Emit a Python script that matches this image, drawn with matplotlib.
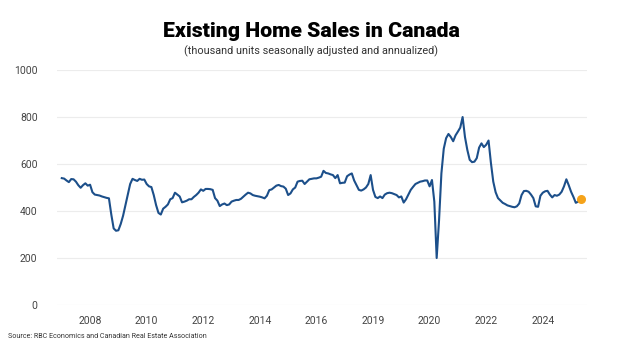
import numpy as np
import matplotlib
matplotlib.use("Agg")
import matplotlib.pyplot as plt

# monthly sales, thousand units SAAR, Jan 2007 onwards
y2007 = [540, 538, 530, 523, 536, 535, 525, 510, 499, 510, 518, 508]
y2008 = [512, 480, 470, 468, 466, 462, 459, 456, 454, 385, 326, 316]
y2009 = [318, 345, 380, 425, 468, 515, 537, 532, 528, 537, 533, 534]
y2010 = [515, 505, 502, 468, 425, 392, 385, 410, 418, 428, 450, 455]
y2011 = [478, 470, 462, 437, 440, 444, 450, 450, 460, 468, 478, 492]
y2012 = [486, 494, 494, 493, 490, 455, 444, 421, 428, 432, 425, 428]
y2013 = [440, 444, 447, 447, 452, 461, 470, 478, 475, 468, 465, 463]
y2014 = [461, 458, 454, 465, 489, 492, 500, 508, 511, 506, 504, 495]
y2015 = [468, 475, 492, 500, 525, 528, 529, 515, 525, 535, 537, 539]
y2016 = [539, 542, 546, 571, 562, 560, 556, 553, 540, 553, 518, 520]
y2017 = [521, 548, 555, 560, 530, 510, 490, 487, 492, 500, 515, 553]
y2018 = [490, 460, 455, 462, 455, 470, 476, 478, 476, 472, 468, 458]
y2019 = [462, 436, 450, 470, 490, 503, 515, 520, 525, 527, 530, 530]
y2020 = [505, 532, 440, 200, 360, 560, 665, 710, 728, 715, 697, 722]
y2021 = [738, 755, 800, 715, 660, 618, 608, 610, 625, 670, 688, 672]
y2022 = [682, 700, 605, 525, 480, 455, 445, 435, 430, 424, 421, 418]
y2023 = [416, 420, 432, 468, 485, 486, 482, 470, 455, 420, 418, 465]
y2024 = [478, 484, 486, 470, 458, 468, 465, 470, 482, 505, 535, 510]
y2025 = [482, 460, 435, 440, 452]

sales = (y2007 + y2008 + y2009 + y2010 + y2011 + y2012 + y2013 + y2014 + y2015
         + y2016 + y2017 + y2018 + y2019 + y2020 + y2021 + y2022 + y2023 + y2024 + y2025)
months = 2007 + np.arange(len(sales)) / 12

tick_years = [2008, 2010, 2012, 2014, 2016, 2018, 2020, 2022, 2024]
tick_labels = ["2008", "2010", "2012", "2014", "2016", "2019", "2020", "2022", "2024"]
y_ticks = [0, 200, 400, 600, 800, 1000]

plt.rcParams['font.family'] = ['Roboto', 'DejaVu Sans']

fig = plt.figure(figsize=(6.22, 3.52), dpi=100)
ax = fig.add_axes([0.0916, 0.1335, 0.852, 0.6675])

ax.plot(months, sales, color="#1c4f8a", lw=1.5, solid_joinstyle="round", zorder=3)
ax.scatter([months[-1]], [sales[-1]], s=30, color="#f5a31a", zorder=4)

ax.set_xlim(2006.83, 2025.56)
ax.set_ylim(0, 1000)
ax.set_xticks(tick_years)
ax.set_xticklabels(tick_labels)
ax.set_yticks(y_ticks)
ax.tick_params(length=0, labelsize=7.5, labelcolor="#444444")
ax.tick_params(axis="x", pad=8)
ax.tick_params(axis="y", pad=14)
for lab in ax.get_yticklabels():
    lab.set_horizontalalignment("right")
ax.grid(axis="y", color="#ececec", lw=0.8)
for s in ax.spines.values():
    s.set_visible(False)

fig.text(0.5, 0.91, "Existing Home Sales in Canada", ha="center", va="center",
         fontsize=15.3, fontweight="heavy", color="black")
fig.text(0.5, 0.855, "(thousand units seasonally adjusted and annualized)", ha="center",
         va="center", fontsize=7.8, color="#333333")
fig.text(0.013, 0.045, "Source: RBC Economics and Canadian Real Estate Association",
         fontsize=5.1, color="#333333", va="center")

fig.savefig("out.png", dpi=100)
